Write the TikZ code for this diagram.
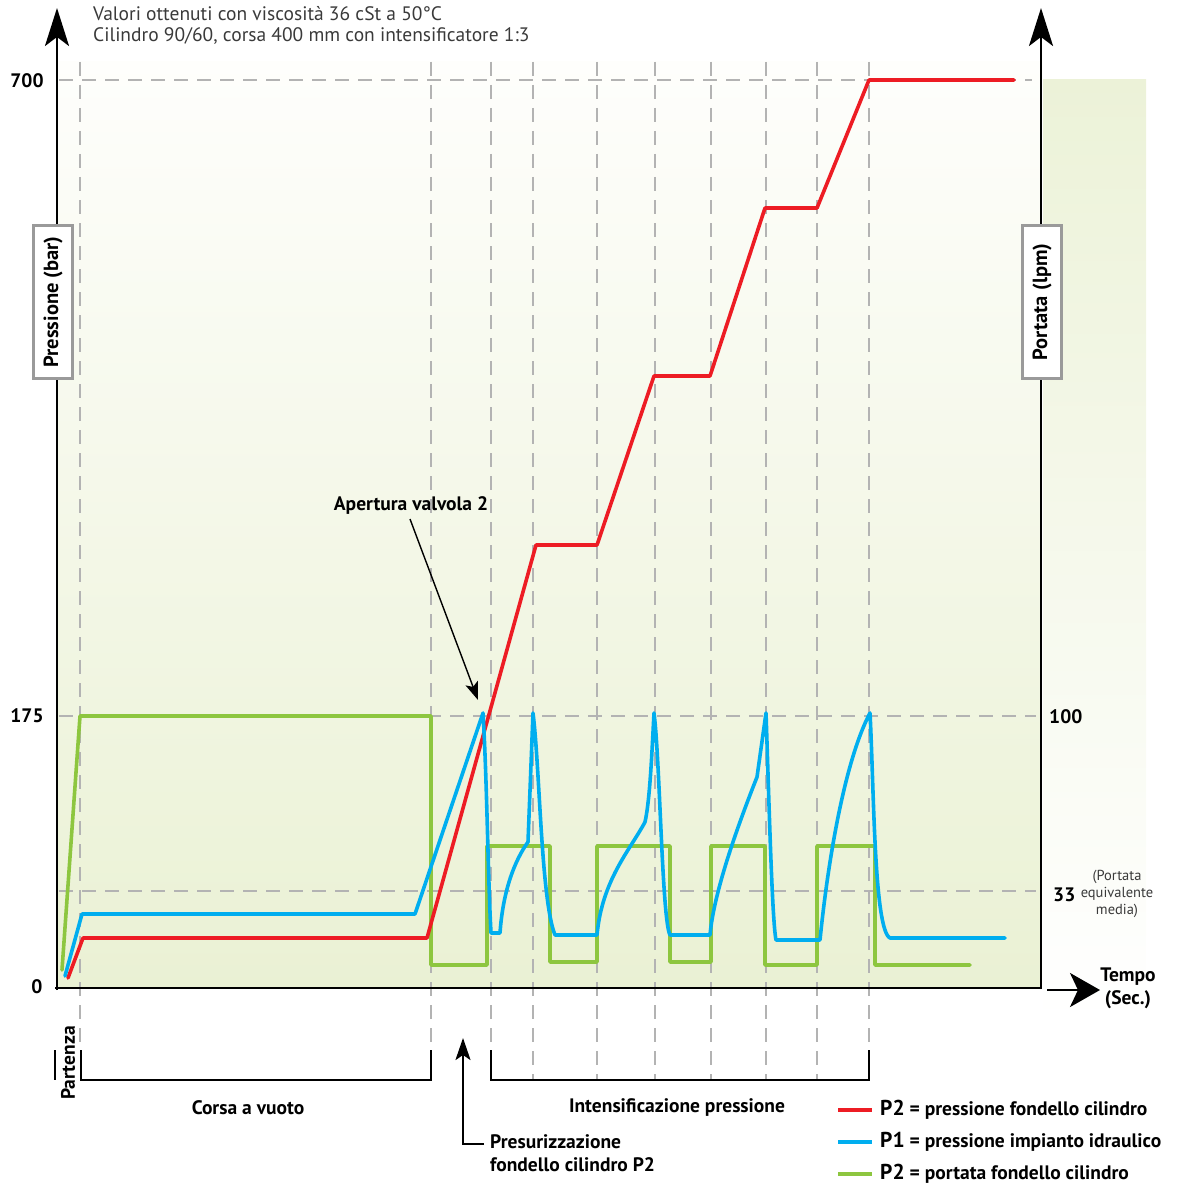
\documentclass[tikz,border=0pt]{standalone}
\usepackage{fontspec}
\setmainfont{PT Sans}
\usetikzlibrary{arrows.meta}
\definecolor{cred}{HTML}{ED1C24}
\definecolor{cblue}{HTML}{00AEEF}
\definecolor{cgreen}{HTML}{8DC63F}
\definecolor{cgrid}{HTML}{B3B3B3}
\definecolor{bgtop}{HTML}{FEFEFC}
\definecolor{bgbot}{HTML}{EAF1D4}
\definecolor{striptop}{HTML}{ECF2D8}
\definecolor{boxgray}{HTML}{9A9A9A}
\definecolor{titlegray}{HTML}{3A3A3A}
\begin{document}
\begin{tikzpicture}[x=1pt,y=-1pt,
  lbl/.style={font=\bfseries\fontsize{19.5}{23}\selectfont, inner sep=0pt},
  smalllbl/.style={font=\fontsize{14.5}{17}\selectfont, inner sep=0pt, text=titlegray, align=center},
  titlelbl/.style={font=\fontsize{19.5}{21.5}\selectfont, inner sep=0pt, text=titlegray, align=left},
  gridline/.style={cgrid, line width=1.8pt, dash pattern=on 14pt off 9pt},
  curve/.style={line width=3.6pt, line join=round, line cap=round},
  axisline/.style={black, line width=2.6pt},
  bracketline/.style={black, line width=2.6pt},
  axbox/.style={draw=boxgray, line width=2.2pt, fill=white, rotate=90,
     minimum width=153pt, minimum height=39pt, inner sep=0pt,
     font=\bfseries\fontsize{20.5}{23}\selectfont},
  legline/.style={line width=4pt}]
\useasboundingbox (0,0) rectangle (1183,1185);
% backgrounds
\shade[top color=bgtop, bottom color=bgbot] (57,62) rectangle (1041,988);
\shade[top color=striptop, bottom color=white] (1043,80) rectangle (1146,1020);
% horizontal grid
\draw[gridline] (59,80) -- (1032,80);
\draw[gridline] (59,716) -- (1036,716);
\draw[gridline] (59,891) -- (1036,891);
% vertical grid
\foreach \xx in {80,431,491,869} {\draw[gridline] (\xx,62) -- (\xx,1050);}
\foreach \xx in {533,597,655,711,766,817} {\draw[gridline] (\xx,62) -- (\xx,1080);}
% green curve (portata)
\draw[curve, cgreen] (62,970) -- (80,716) -- (431,716) -- (431,965) -- (487,965)
  -- (487,846) -- (550,846) -- (550,962) -- (597,962) -- (597,846) -- (670,846)
  -- (670,962) -- (711,962) -- (711,846) -- (765,846) -- (765,965) -- (817,965)
  -- (817,846) -- (875,846) -- (875,965) -- (970,965);
% red curve (P2)
\draw[curve, cred] (68,978) -- (83,938) -- (427,938) -- (536,545) -- (597,545)
  -- (654,376) -- (710,376) -- (765,208) -- (817,208) -- (869,80) -- (1014,80);
% blue curve (P1)
\draw[curve, cblue] (65,976) -- (82,914) -- (415,914) -- (483,713)
  .. controls (487,780) and (488,880) .. (491,933) -- (500,933)
  .. controls (503,890) and (515,860) .. (528,842) -- (533,713)
  .. controls (540,770) and (541,900) .. (555,935) -- (597,935)
  .. controls (602,880) and (630,850) .. (645,822)
  .. controls (650,800) and (652,750) .. (654,713)
  .. controls (660,760) and (662,920) .. (670,935) -- (710,935)
  .. controls (714,890) and (740,820) .. (757,777) -- (766,713)
  .. controls (769,800) and (772,920) .. (776,940) -- (820,940)
  .. controls (828,860) and (845,760) .. (870,713)
  .. controls (874,790) and (874,930) .. (890,938) -- (1005,938);
% axes
\coordinate (yTop) at (57,8);
\coordinate (yBot) at (57,990);
\coordinate (rTop) at (1041,8);
\coordinate (rBot) at (1041,989);
\coordinate (xL) at (55,988);
\coordinate (xR) at (1042,988);
\draw[axisline, -{Stealth[length=38pt,width=24pt,inset=9pt]}] (yBot) -- (yTop);
\draw[axisline, -{Stealth[length=38pt,width=24pt,inset=9pt]}] (rBot) -- (rTop);
\draw[axisline] (xL) -- (xR);
\coordinate (tS) at (1047,990);
\coordinate (tE) at (1100,990);
\draw[axisline, -{Stealth[length=30pt,width=34pt,inset=8pt]}] (tS) -- (tE);
% axis label boxes
\node[axbox] (pbox) at (53,302) {Pressione (bar)};
\node[axbox] (qbox) at (1042,302) {Portata (lpm)};
% tick labels
\node[lbl] (l700) at (27,81) {700};
\node[lbl] (l175) at (27,716) {175};
\node[lbl] (l0) at (37,987) {0};
\node[lbl, anchor=west] (l100) at (1049,717) {100};
\node[lbl, anchor=west] (l33) at (1053,895) {33};
\node[smalllbl] (lmed) at (1117,894) {(Portata\\equivalente\\media)};
\node[lbl, align=center] (tempo) at (1128,988) {Tempo\\(Sec.)};
% title
\node[titlelbl, anchor=north west] (title) at (93,6) {Valori ottenuti con viscosità 36 cSt a 50°C\\Cilindro 90/60, corsa 400 mm con intensificatore 1:3};
% apertura valvola
\node[lbl] (apert) at (411,505) {Apertura valvola 2};
\coordinate (apTip) at (478,700);
\draw[black, line width=1.4pt, -{Stealth[length=18pt,width=13pt,inset=4pt]}] (410,519) -- (apTip);
% brackets
\coordinate (bA1) at (81,1050);
\coordinate (bA2) at (431,1050);
\draw[bracketline] (bA1) -- (81,1080) -- (431,1080) -- (bA2);
\coordinate (bB1) at (491,1050);
\coordinate (bB2) at (869,1050);
\draw[bracketline] (bB1) -- (491,1080) -- (869,1080) -- (bB2);
\coordinate (pt1) at (55,1050);
\coordinate (pt2) at (55,1080);
\draw[bracketline] (pt1) -- (pt2);
\node[lbl, rotate=90] (part) at (68,1063) {Partenza};
\node[lbl] (corsa) at (248,1108) {Corsa a vuoto};
\node[lbl] (intens) at (677,1108) {Intensificazione pressione};
% presurizzazione
\node[lbl, anchor=north west, align=left] (pres) at (490,1134) {Presurizzazione\\fondello cilindro P2};
\coordinate (prStart) at (484,1144);
\coordinate (prTip) at (463,1038);
\draw[black, line width=2.4pt, -{Stealth[length=22pt,width=15pt,inset=5pt]}] (prStart) -| (prTip);
% legend
\coordinate (lg1a) at (838,1110); \coordinate (lg1b) at (872,1110);
\coordinate (lg2a) at (838,1142); \coordinate (lg2b) at (872,1142);
\coordinate (lg3a) at (838,1174); \coordinate (lg3b) at (872,1174);
\draw[legline, cred] (lg1a) -- (lg1b);
\draw[legline, cblue] (lg2a) -- (lg2b);
\draw[legline, cgreen] (lg3a) -- (lg3b);
\node[lbl, anchor=west] (leg1) at (880,1110) {{\fontsize{21.5}{23}\selectfont P2} = pressione fondello cilindro};
\node[lbl, anchor=west] (leg2) at (880,1142) {{\fontsize{21.5}{23}\selectfont P1} = pressione impianto idraulico};
\node[lbl, anchor=west] (leg3) at (880,1174) {{\fontsize{21.5}{23}\selectfont P2} = portata fondello cilindro};
\end{tikzpicture}
\end{document}
